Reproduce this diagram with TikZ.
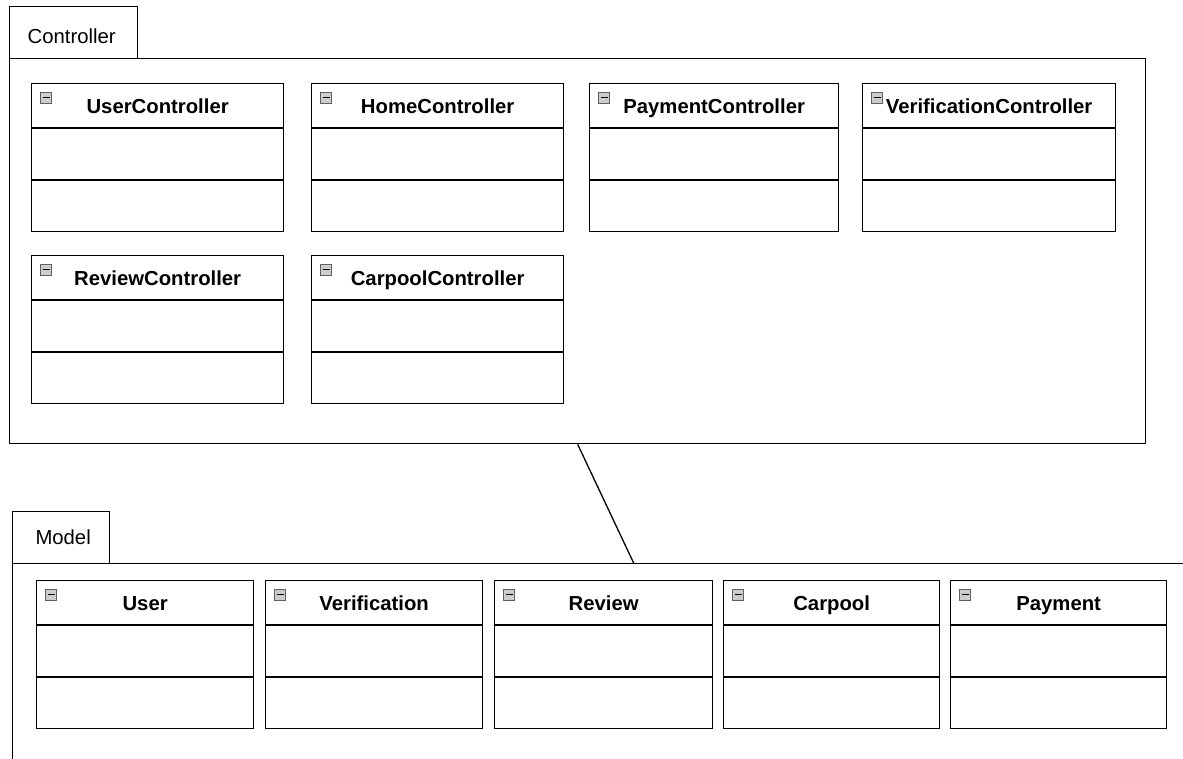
\documentclass[tikz,border=0pt]{standalone}
\usepackage{fontspec}
\setmainfont{Liberation Sans}
\usetikzlibrary{calc}

\tikzset{
  x=1pt, y=-1pt,
  pkgline/.style={draw=black, line width=1.3pt},
  pkgbody/.style={pkgline, rectangle, anchor=north west, inner sep=0pt},
  pkgtab/.style={pkgline, rectangle, anchor=north west, inner sep=0pt},
  pkglabel/.style={font=\fontsize{20.3}{24}\selectfont, inner sep=0pt, anchor=base},
  classbox/.style={draw=black, line width=1.3pt, rectangle, anchor=north west,
    inner sep=0pt, minimum height=148pt, fill=white},
  classname/.style={font=\bfseries\fontsize{20.3}{24}\selectfont, inner sep=0pt, anchor=base},
  divider/.style={draw=black, line width=1.3pt},
  collapser/.style={draw=gray!75!black, fill=gray!40, line width=0.6pt,
    minimum size=11.5pt, inner sep=0pt, rectangle},
}

% one UML class: id, left, top, width, name
\newcommand{\umlclass}[5]{%
  \node[classbox, minimum width=#4pt] (#1) at (#2,#3) {};
  \draw[divider] ($(#1.north west)+(0,45)$) -- ($(#1.north east)+(0,45)$);
  \draw[divider] ($(#1.north west)+(0,97)$) -- ($(#1.north east)+(0,97)$);
  \node[collapser] (#1-icon) at ($(#1.north west)+(15,15)$) {};
  \draw[line width=1.3pt] ($(#1-icon.center)+(-3.5,-0.8)$) -- ($(#1-icon.center)+(3.5,-0.8)$);
  \node[classname] (#1-name) at ($(#1.north)+(0,30)$) {#5};
}

\begin{document}
\begin{tikzpicture}
\useasboundingbox (0,0) rectangle (1183,758);
\fill[white] (0,0) rectangle (1183,758);
\begin{scope}
\clip (0,0) rectangle (1183,758);

% Controller package
\node[pkgtab, minimum width=128pt, minimum height=52pt] (ctab) at (9,6) {};
\node[pkglabel] (ctab-label) at ($(ctab.north)+(-2,37)$) {Controller};
\node[pkgbody, minimum width=1136pt, minimum height=385pt] (ctrl) at (9,58) {};

\umlclass{userctl}{31}{83}{252}{UserController}
\umlclass{homectl}{311}{83}{252}{HomeController}
\umlclass{payctl}{589}{83}{249}{PaymentController}
\umlclass{verctl}{862}{83}{253}{VerificationController}
\umlclass{revctl}{31}{255}{252}{ReviewController}
\umlclass{carctl}{311}{255}{252}{CarpoolController}

% Model package (continues past the right and bottom edges)
\node[pkgtab, minimum width=97pt, minimum height=52pt] (mtab) at (12,511) {};
\node[pkglabel] (mtab-label) at ($(mtab.north)+(2,33)$) {Model};
\node[pkgbody, minimum width=1242pt, minimum height=260pt] (mdl) at (12,563) {};

\umlclass{user}{36}{580}{217}{User}
\umlclass{verif}{265}{580}{217}{Verification}
\umlclass{review}{494}{580}{218}{Review}
\umlclass{carpool}{723}{580}{216}{Carpool}
\umlclass{payment}{950}{580}{216}{Payment}

% dependency between the packages
\draw[pkgline] (ctrl.south) -- (mdl.north);
\end{scope}
\end{tikzpicture}
\end{document}
